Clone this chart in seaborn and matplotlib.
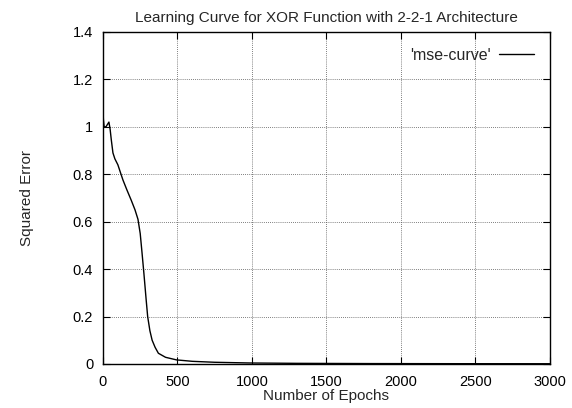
import matplotlib
matplotlib.use("Agg")
import matplotlib.pyplot as plt
import seaborn as sns
import pandas as pd

epochs = [0, 3, 8, 20, 30, 40, 48, 56, 67, 80, 100, 134, 160, 190, 215, 235, 250, 262, 275, 290, 300, 315, 330, 350, 372, 420, 494, 600, 750, 987, 1300, 1800, 2400, 3000]
mse = [1.07, 1.03, 1.0, 1.0, 1.01, 1.02, 0.99, 0.945, 0.89, 0.865, 0.84, 0.776, 0.735, 0.69, 0.65, 0.61, 0.55, 0.47, 0.38, 0.27, 0.20, 0.14, 0.10, 0.07, 0.045, 0.028, 0.017, 0.011, 0.007, 0.004, 0.0025, 0.0015, 0.001, 0.0008]

df = pd.DataFrame({"Epoch": epochs, "MSE": mse, "series": "'mse-curve'"})

sns.set_style("ticks")
plt.rcParams['font.family'] = ['Liberation Sans', 'DejaVu Sans']
plt.rcParams['font.size'] = 11

fig = plt.figure(figsize=(5.72, 4.08), dpi=100)
ax = fig.add_axes([0.180, 0.108, 0.7815, 0.8136])

sns.lineplot(data=df, x="Epoch", y="MSE", hue="series", palette=["black"],
             linewidth=1.0, ax=ax, sort=False, estimator=None)

ax.set_xlim(0, 3000)
ax.set_ylim(0, 1.4)
ax.set_xticks([0, 500, 1000, 1500, 2000, 2500, 3000])
ax.set_yticks([0, 0.2, 0.4, 0.6, 0.8, 1.0, 1.2, 1.4])
ax.set_yticklabels(["0", "0.2", "0.4", "0.6", "0.8", "1", "1.2", "1.4"])
ax.grid(True, linestyle=(0, (1, 1.5)), color="#555555", linewidth=0.6)
ax.tick_params(direction="in", top=True, right=True, length=5, width=0.8,
               labelsize=10.5, colors="black")
ax.tick_params(axis="x", pad=8)
ax.tick_params(axis="y", pad=7)
for s in ax.spines.values():
    s.set_color("black")
    s.set_linewidth(1.0)

ax.set_title("Learning Curve for XOR Function with 2-2-1 Architecture", fontsize=11, pad=7)
ax.set_xlabel("Number of Epochs", fontsize=11, labelpad=0)
ax.set_ylabel("Squared Error", fontsize=11, labelpad=28)

leg = ax.legend(loc="upper right", frameon=False, markerfirst=False, fontsize=11.5,
                handlelength=2.2, borderaxespad=0.6, handletextpad=0.5)

fig.savefig("out.png", dpi=100)
